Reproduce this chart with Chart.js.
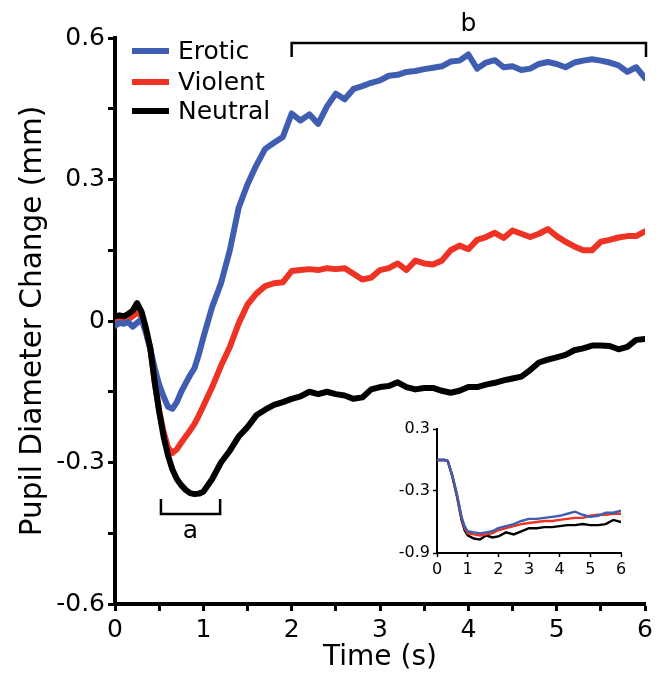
<!DOCTYPE html>
<html lang="en">
<head>
<meta charset="UTF-8">
<title>Pupil Diameter Change</title>
<script src="https://cdn.jsdelivr.net/npm/chart.js@4.4.1/dist/chart.umd.min.js"></script>
<style>
  html, body { margin: 0; padding: 0; background: #fff; }
  #wrap { position: relative; width: 662px; height: 677px; }
  #main { position: absolute; left: 0; top: 0; }
  #inset { position: absolute; left: 380px; top: 410px; }
</style>
</head>
<body>
<div id="wrap">
  <canvas id="main" width="662" height="677"></canvas>
  <canvas id="inset" width="260" height="180"></canvas>
</div>

<script>
// main panel, seconds
const times = [0, 0.05, 0.1, 0.15, 0.2, 0.25, 0.3, 0.35, 0.4, 0.45, 0.5, 0.55, 0.6, 0.65, 0.7, 0.75, 0.8, 0.85, 0.9, 0.95, 1.0,
  1.1, 1.2, 1.3, 1.4, 1.5, 1.6, 1.7, 1.8, 1.9, 2.0, 2.1, 2.2, 2.3, 2.4, 2.5, 2.6, 2.7, 2.8, 2.9, 3.0,
  3.1, 3.2, 3.3, 3.4, 3.5, 3.6, 3.7, 3.8, 3.9, 4.0, 4.1, 4.2, 4.3, 4.4, 4.5, 4.6, 4.7, 4.8, 4.9, 5.0,
  5.1, 5.2, 5.3, 5.4, 5.5, 5.6, 5.7, 5.8, 5.9, 6.0];

const erotic = [-0.010, -0.004, -0.006, -0.002, -0.012, -0.004, 0.004, -0.025, -0.060, -0.100, -0.135, -0.160, -0.182, -0.186, -0.172, -0.150, -0.132, -0.115, -0.100, -0.070, -0.035,
  0.030, 0.080, 0.150, 0.240, 0.290, 0.330, 0.365, 0.378, 0.390, 0.440, 0.425, 0.438, 0.418, 0.455, 0.482, 0.470, 0.492, 0.498, 0.505, 0.510,
  0.520, 0.522, 0.528, 0.530, 0.534, 0.537, 0.540, 0.550, 0.552, 0.565, 0.535, 0.548, 0.553, 0.538, 0.540, 0.532, 0.535, 0.545, 0.549, 0.545,
  0.538, 0.548, 0.552, 0.555, 0.552, 0.548, 0.542, 0.528, 0.538, 0.515];

const violent = [0.000, 0.002, 0.004, 0.004, 0.010, 0.018, 0.010, -0.020, -0.058, -0.130, -0.190, -0.235, -0.268, -0.280, -0.272, -0.258, -0.245, -0.232, -0.218, -0.200, -0.180,
  -0.140, -0.095, -0.055, -0.005, 0.035, 0.058, 0.074, 0.080, 0.082, 0.106, 0.108, 0.110, 0.108, 0.112, 0.110, 0.112, 0.100, 0.088, 0.092, 0.108,
  0.112, 0.122, 0.108, 0.128, 0.122, 0.120, 0.128, 0.150, 0.160, 0.152, 0.172, 0.178, 0.187, 0.176, 0.192, 0.185, 0.178, 0.185, 0.195, 0.180,
  0.168, 0.158, 0.150, 0.150, 0.168, 0.172, 0.177, 0.180, 0.180, 0.190];

const neutral = [0.010, 0.012, 0.010, 0.015, 0.022, 0.038, 0.020, -0.015, -0.058, -0.130, -0.192, -0.245, -0.285, -0.315, -0.335, -0.348, -0.358, -0.365, -0.367, -0.366, -0.362,
  -0.335, -0.300, -0.275, -0.245, -0.225, -0.200, -0.188, -0.178, -0.172, -0.165, -0.160, -0.150, -0.155, -0.150, -0.155, -0.158, -0.165, -0.162, -0.145, -0.140,
  -0.138, -0.130, -0.140, -0.145, -0.142, -0.142, -0.148, -0.152, -0.148, -0.140, -0.140, -0.135, -0.131, -0.126, -0.122, -0.118, -0.104, -0.088, -0.082, -0.077,
  -0.072, -0.062, -0.058, -0.052, -0.052, -0.053, -0.060, -0.055, -0.040, -0.038];

// inset panel
const insetTimes = [0, 0.25, 0.35, 0.5, 0.65, 0.8, 0.9, 1.0, 1.2, 1.4, 1.6, 1.8, 2.0, 2.25, 2.5, 2.75, 3.0, 3.25, 3.5, 3.75, 4.0, 4.25, 4.5, 4.75, 5.0, 5.25, 5.5, 5.75, 6.0];
const insetErotic = [0, 0, -0.01, -0.15, -0.33, -0.55, -0.64, -0.69, -0.70, -0.71, -0.70, -0.69, -0.66, -0.64, -0.62, -0.59, -0.57, -0.57, -0.56, -0.55, -0.54, -0.52, -0.50, -0.53, -0.55, -0.54, -0.51, -0.51, -0.49];
const insetViolent = [0, 0, -0.01, -0.15, -0.34, -0.56, -0.66, -0.71, -0.72, -0.73, -0.72, -0.71, -0.68, -0.66, -0.64, -0.62, -0.61, -0.60, -0.59, -0.59, -0.58, -0.57, -0.56, -0.56, -0.54, -0.53, -0.53, -0.52, -0.52];
const insetNeutral = [0, 0, -0.01, -0.16, -0.35, -0.58, -0.68, -0.73, -0.76, -0.77, -0.73, -0.75, -0.74, -0.70, -0.72, -0.69, -0.66, -0.66, -0.65, -0.65, -0.64, -0.63, -0.63, -0.62, -0.63, -0.63, -0.62, -0.58, -0.60];

const seriesNames = ['Erotic', 'Violent', 'Neutral'];
const seriesColors = ['#3f5db1', '#ee3325', '#000000'];

// significance brackets: [start s, end s]
const bracketA = [0.52, 1.19];
const bracketB = [2, 6];

const FONT = "'DejaVu Sans', sans-serif";

function pts(xs, ys) {
  return xs.map((x, i) => ({ x: x, y: ys[i] }));
}

function yLabel(v) {
  const k = Math.round(v / 0.3);
  if (Math.abs(k * 0.3 - v) > 1e-6) return '';
  if (k === 0) return '0';
  return (k * 0.3).toFixed(1);
}

const extras = {
  id: 'extras',
  afterDraw(chart) {
    const ctx = chart.ctx;
    const x = chart.scales.x;
    ctx.save();

    // legend
    ctx.font = '25px ' + FONT;
    ctx.textBaseline = 'middle';
    ctx.textAlign = 'left';
    ctx.lineCap = 'butt';
    const rows = [51, 82, 111];
    seriesNames.forEach((name, i) => {
      ctx.strokeStyle = seriesColors[i];
      ctx.lineWidth = 6;
      ctx.beginPath();
      ctx.moveTo(132, rows[i]);
      ctx.lineTo(169, rows[i]);
      ctx.stroke();
      ctx.fillStyle = '#000';
      ctx.fillText(name, 178, rows[i] + 1);
    });

    // bracket b
    ctx.strokeStyle = '#000';
    ctx.lineWidth = 2.5;
    const b0 = x.getPixelForValue(bracketB[0]);
    const b1 = x.getPixelForValue(bracketB[1]);
    ctx.beginPath();
    ctx.moveTo(b0, 57);
    ctx.lineTo(b0, 43);
    ctx.lineTo(b1 + 1, 43);
    ctx.lineTo(b1 + 1, 57);
    ctx.stroke();
    ctx.textAlign = 'center';
    ctx.fillText('b', (b0 + b1) / 2, 24);

    // bracket a
    const a0 = x.getPixelForValue(bracketA[0]);
    const a1 = x.getPixelForValue(bracketA[1]);
    ctx.beginPath();
    ctx.moveTo(a0, 499);
    ctx.lineTo(a0, 514);
    ctx.lineTo(a1, 514);
    ctx.lineTo(a1, 499);
    ctx.stroke();
    ctx.fillText('a', (a0 + a1) / 2, 531);
    ctx.restore();
  }
};

new Chart(document.getElementById('main'), {
  type: 'line',
  data: {
    datasets: [
      { label: seriesNames[0], data: pts(times, erotic), borderColor: seriesColors[0], order: 2 },
      { label: seriesNames[1], data: pts(times, violent), borderColor: seriesColors[1], order: 3 },
      { label: seriesNames[2], data: pts(times, neutral), borderColor: seriesColors[2], order: 1 }
    ]
  },
  options: {
    responsive: false,
    animation: false,
    events: [],
    layout: { padding: { top: 38, right: 17, left: 0, bottom: 0 } },
    elements: {
      line: { borderWidth: 6, tension: 0, borderJoinStyle: 'round', borderCapStyle: 'round', fill: false },
      point: { radius: 0 }
    },
    plugins: { legend: { display: false }, tooltip: { enabled: false } },
    scales: {
      x: {
        type: 'linear',
        min: 0, max: 6,
        border: { display: true, width: 4, color: '#000' },
        grid: { drawOnChartArea: false, drawTicks: true, tickLength: 7, tickWidth: 3, tickColor: '#000' },
        ticks: {
          stepSize: 0.5, autoSkip: false, maxRotation: 0, padding: 4, color: '#000',
          font: { family: FONT, size: 25 },
          callback: v => Number.isInteger(v) ? String(v) : ''
        },
        title: { display: true, text: 'Time (s)', color: '#000', font: { family: FONT, size: 28 }, padding: { top: 0, bottom: 2 } },
        afterFit: s => { s.height = 73; }
      },
      y: {
        min: -0.6, max: 0.6,
        border: { display: true, width: 4, color: '#000' },
        grid: { drawOnChartArea: false, drawTicks: true, tickLength: 7, tickWidth: 3, tickColor: '#000' },
        ticks: {
          stepSize: 0.15, autoSkip: false, padding: 3, color: '#000',
          font: { family: FONT, size: 25 },
          callback: v => yLabel(v)
        },
        title: { display: true, text: 'Pupil Diameter Change (mm)', color: '#000', font: { family: FONT, size: 29.5 }, padding: { top: 16, bottom: 0 } },
        afterFit: s => { s.width = 115; }
      }
    }
  },
  plugins: [extras]
});

new Chart(document.getElementById('inset'), {
  type: 'line',
  data: {
    datasets: [
      { label: seriesNames[2], data: pts(insetTimes, insetNeutral), borderColor: seriesColors[2], order: 3 },
      { label: seriesNames[1], data: pts(insetTimes, insetViolent), borderColor: seriesColors[1], order: 2 },
      { label: seriesNames[0], data: pts(insetTimes, insetErotic), borderColor: seriesColors[0], order: 1 }
    ]
  },
  options: {
    responsive: false,
    animation: false,
    events: [],
    layout: { padding: { top: 19, right: 19, left: 0, bottom: 0 } },
    elements: {
      line: { borderWidth: 2.4, tension: 0, fill: false },
      point: { radius: 0 }
    },
    plugins: { legend: { display: false }, tooltip: { enabled: false } },
    scales: {
      x: {
        type: 'linear',
        min: 0, max: 6,
        border: { display: true, width: 2, color: '#000' },
        grid: { drawOnChartArea: false, drawTicks: true, tickLength: 4, tickWidth: 1.5, tickColor: '#000' },
        ticks: { stepSize: 1, autoSkip: false, maxRotation: 0, padding: 3, color: '#000', font: { family: FONT, size: 16 } },
        afterFit: s => { s.height = 37; }
      },
      y: {
        min: -0.9, max: 0.3,
        border: { display: true, width: 2, color: '#000' },
        grid: { drawOnChartArea: false, drawTicks: true, tickLength: 4, tickWidth: 1.5, tickColor: '#000' },
        ticks: { stepSize: 0.6, autoSkip: false, padding: 3, color: '#000', font: { family: FONT, size: 16 },
          callback: v => v.toFixed(1) },
        afterFit: s => { s.width = 57; }
      }
    }
  }
});
</script>
</body>
</html>
